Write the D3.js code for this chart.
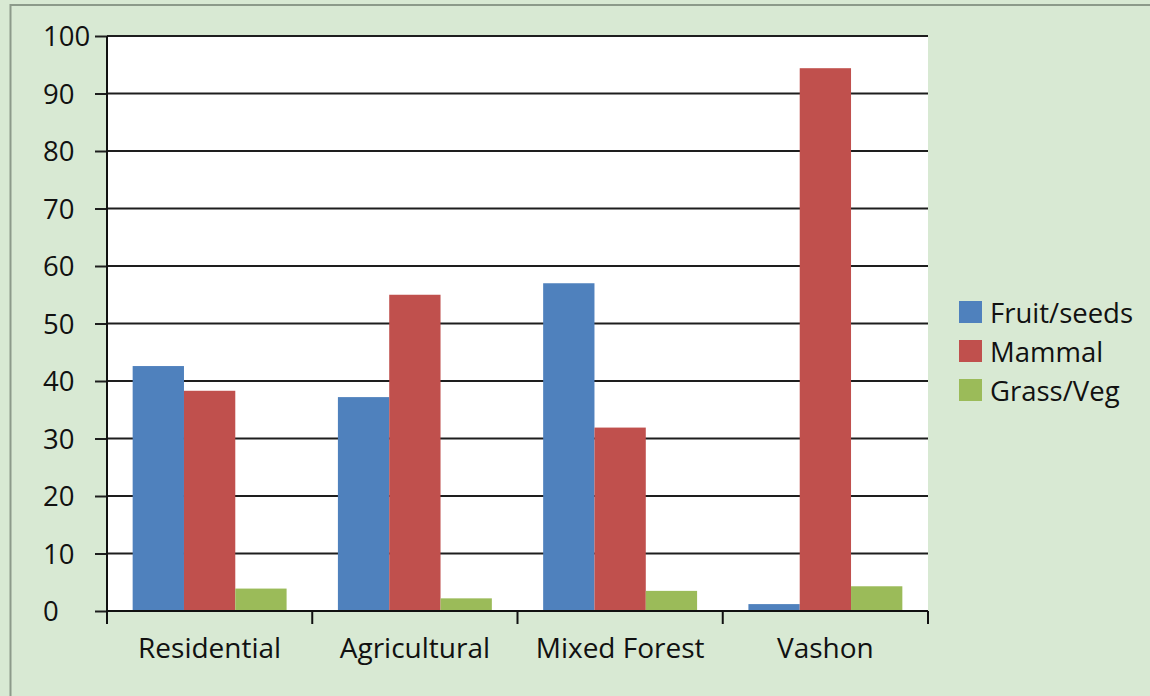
<!DOCTYPE html>
<html>
<head>
<meta charset="utf-8">
<script src="https://cdn.jsdelivr.net/npm/d3@7"></script>
<style>
  html, body { margin: 0; padding: 0; background: #d8e9d3; }
  svg { display: block; }
  text { font-family: "Open Sans", "Noto Sans", sans-serif; fill: #111; }
</style>
</head>
<body>
<svg id="chart" width="1150" height="696"></svg>
<script>
const categories = ["Residential", "Agricultural", "Mixed Forest", "Vashon"];
const seriesNames = ["Fruit/seeds", "Mammal", "Grass/Veg"];
const seriesColors = ["#4f81bd", "#c0504d", "#9bbb59"];
const fruitSeeds = [42.6, 37.2, 57.0, 1.2];
const mammal = [38.3, 55.0, 31.9, 94.4];
const grassVeg = [3.9, 2.2, 3.5, 4.3];
const yTicks = [0, 10, 20, 30, 40, 50, 60, 70, 80, 90, 100];

const seriesValues = [fruitSeeds, mammal, grassVeg];

const svg = d3.select("#chart");
const W = 1150, H = 696;

// background + frame
svg.append("rect").attr("width", W).attr("height", H).attr("fill", "#d8e9d3");
svg.append("rect").attr("x", 10.5).attr("y", 5).attr("width", W + 20).attr("height", H + 20)
  .attr("fill", "none").attr("stroke", "#8c9a8a").attr("stroke-width", 2);

const plot = { left: 107, right: 928, top: 36, bottom: 611 };

const x = d3.scaleBand().domain(categories).range([plot.left, plot.right]).paddingInner(0).paddingOuter(0);
const xs = d3.scaleBand().domain(seriesNames).range([0, x.bandwidth()]).paddingInner(0).paddingOuter(0.5);
const y = d3.scaleLinear().domain([0, 100]).range([plot.bottom, plot.top]);

// plot area
svg.append("rect").attr("x", plot.left).attr("y", plot.top)
  .attr("width", plot.right - plot.left).attr("height", plot.bottom - plot.top).attr("fill", "#ffffff");

// gridlines
svg.append("g").selectAll("line").data(yTicks.filter(d => d > 0)).join("line")
  .attr("x1", plot.left).attr("x2", plot.right)
  .attr("y1", d => y(d)).attr("y2", d => y(d))
  .attr("stroke", "#1e1e1e").attr("stroke-width", 2);

// bars
const rows = [];
categories.forEach((c, i) => seriesNames.forEach((s, j) => rows.push({ c, s, j, v: seriesValues[j][i] })));
svg.append("g").selectAll("rect").data(rows).join("rect")
  .attr("x", d => x(d.c) + xs(d.s))
  .attr("width", xs.bandwidth())
  .attr("y", d => y(d.v))
  .attr("height", d => y(0) - y(d.v))
  .attr("fill", d => seriesColors[d.j]);

// y axis
const yAxis = d3.axisLeft(y).tickValues(yTicks).tickSize(12).tickSizeOuter(0).tickFormat(d3.format("d"));
const gy = svg.append("g").attr("transform", `translate(${plot.left},0)`).call(yAxis);
gy.select(".domain").remove();
gy.selectAll(".tick line").attr("stroke", "#1e1e1e").attr("stroke-width", 2);
gy.selectAll(".tick text").attr("x", 43 - plot.left).attr("text-anchor", "start")
  .attr("dy", "0.36em").style("font-size", "27.5px").attr("fill", "#111");
svg.append("line").attr("x1", plot.left).attr("x2", plot.left).attr("y1", plot.top).attr("y2", plot.bottom + 13)
  .attr("stroke", "#111").attr("stroke-width", 2);

// x axis
const gx = svg.append("g").attr("transform", `translate(0,${plot.bottom})`)
  .call(d3.axisBottom(x).tickSize(0).tickSizeOuter(0));
gx.select(".domain").remove();
gx.selectAll(".tick text").attr("y", 47).attr("dy", 0).style("font-size", "28px").attr("fill", "#111");
svg.append("line").attr("x1", plot.left).attr("x2", plot.right).attr("y1", plot.bottom).attr("y2", plot.bottom)
  .attr("stroke", "#111").attr("stroke-width", 2);
const boundaries = categories.map(c => x(c)).concat([x.range()[1]]);
svg.append("g").selectAll("line").data(boundaries).join("line")
  .attr("x1", d => d).attr("x2", d => d).attr("y1", plot.bottom).attr("y2", plot.bottom + 13)
  .attr("stroke", "#111").attr("stroke-width", 2);

// legend
const lg = svg.append("g").attr("transform", "translate(959,301)");
const items = lg.selectAll("g").data(seriesNames).join("g")
  .attr("transform", (d, i) => `translate(0,${i * 39})`);
items.append("rect").attr("width", 23).attr("height", 22).attr("fill", (d, i) => seriesColors[i]);
items.append("text").attr("x", 31).attr("y", 22).text(d => d).style("font-size", "27.5px");
</script>
</body>
</html>
